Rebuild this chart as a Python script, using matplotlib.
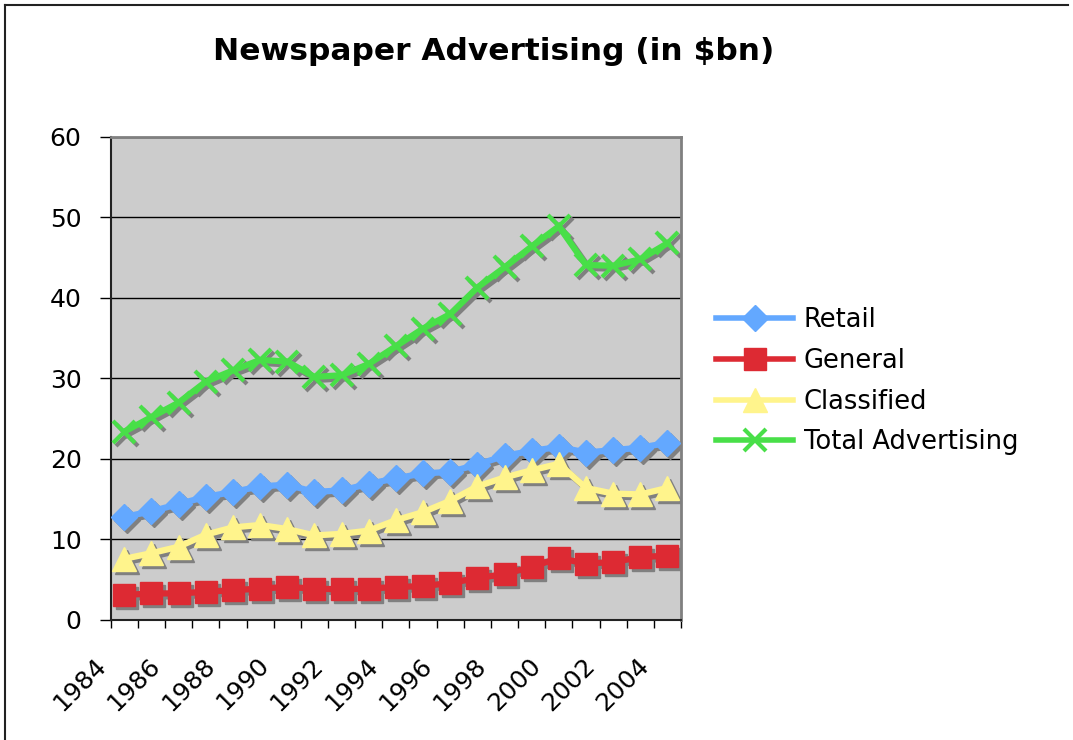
import matplotlib

matplotlib.use('Agg')
import matplotlib.pyplot as plt
from matplotlib.lines import Line2D
from matplotlib.transforms import ScaledTranslation
import numpy as np

# 数据（单位：十亿美元）
years = list(range(1984, 2005))
retail = [12.8, 13.5, 14.4, 15.3, 15.9, 16.6, 16.8, 15.9, 16.1, 16.9, 17.6,
          18.2, 18.4, 19.3, 20.4, 21.0, 21.5, 20.8, 21.1, 21.4, 22.0]
general = [3.1, 3.3, 3.3, 3.5, 3.7, 3.9, 4.1, 3.9, 3.8, 3.9, 4.1,
           4.2, 4.6, 5.2, 5.7, 6.6, 7.7, 7.0, 7.2, 7.8, 8.0]
classified = [7.6, 8.3, 9.1, 10.6, 11.5, 11.8, 11.3, 10.5, 10.7, 11.1, 12.4,
              13.4, 14.8, 16.6, 17.7, 18.6, 19.4, 16.4, 15.7, 15.6, 16.4]
total = [23.4, 25.2, 27.0, 29.6, 31.0, 32.3, 32.1, 30.2, 30.4, 31.8, 34.0,
         36.2, 38.0, 41.3, 43.8, 46.4, 48.9, 44.1, 44.0, 44.8, 46.8]

series = [
    ("Retail", retail, "#63A8FF", "D", 13, 1),
    ("General", general, "#DD2A33", "s", 16, 1),
    ("Classified", classified, "#FFF48C", "^", 17, 1),
    ("Total Advertising", total, "#48DF48", "x", 16, 3),
]

fig = plt.figure(figsize=(10.73, 7.40), dpi=100)
ax = fig.add_axes([0.1032, 0.1622, 0.5315, 0.6527])
ax.set_facecolor("#CCCCCC")

x = np.arange(len(years))
shadow = ax.transData + ScaledTranslation(3 / 100, -3 / 100, fig.dpi_scale_trans)

handles = []
for name, vals, color, marker, ms, mew in series:
    ax.plot(x, vals, color="#808080", lw=4.5, marker=marker, ms=ms, mew=mew,
            mec="#808080", transform=shadow, zorder=3, solid_joinstyle="miter")
    ax.plot(x, vals, color=color, lw=4.5, marker=marker, ms=ms, mew=mew,
            mec=color, zorder=4, solid_joinstyle="miter")
    handles.append(Line2D([], [], color=color, lw=4, marker=marker, ms=ms,
                          mew=mew, mec=color, label=name))

ax.set_xlim(-0.5, len(years) - 0.5)
ax.set_ylim(0, 60)
ax.set_yticks(range(0, 61, 10))
ax.yaxis.grid(True, color="black", lw=1)
ax.set_axisbelow(True)

ax.set_xticks(x[::2])
ax.set_xticklabels([str(y) for y in years[::2]], rotation=45, ha="right",
                   va="center", rotation_mode="anchor")
ax.set_xticks(np.arange(-0.5, len(years)), minor=True)
ax.tick_params(axis="x", which="major", length=0, pad=30, labelsize=18)
ax.tick_params(axis="x", which="minor", length=6, width=1, direction="out")
ax.tick_params(axis="y", length=8, width=1, direction="out", pad=13, labelsize=18)
for lab in ax.get_xticklabels():
    lab.set_transform(lab.get_transform() + ScaledTranslation(-0.22, 0, fig.dpi_scale_trans))

for side in ("left", "bottom"):
    ax.spines[side].set_color("#222222")
    ax.spines[side].set_linewidth(1.5)
for side in ("top", "right"):
    ax.spines[side].set_color("#808080")
    ax.spines[side].set_linewidth(2)

fig.text(0.4604, 0.93, "Newspaper Advertising (in $bn)", ha="center", va="center",
         fontsize=22.5, fontweight="bold")

fig.legend(handles=handles, loc="center left", bbox_to_anchor=(0.646, 0.485),
           frameon=False, fontsize=18.5, handlelength=3.0, handletextpad=0.4,
           labelspacing=0.58)

# 外框
fig.add_artist(Line2D([5 / 1073, 5 / 1073], [0, 1 - 5 / 740], color="#222222", lw=1.5))
fig.add_artist(Line2D([5 / 1073, 1068 / 1073], [1 - 5 / 740, 1 - 5 / 740], color="#222222", lw=1.5))

fig.savefig("out.png", dpi=100)
